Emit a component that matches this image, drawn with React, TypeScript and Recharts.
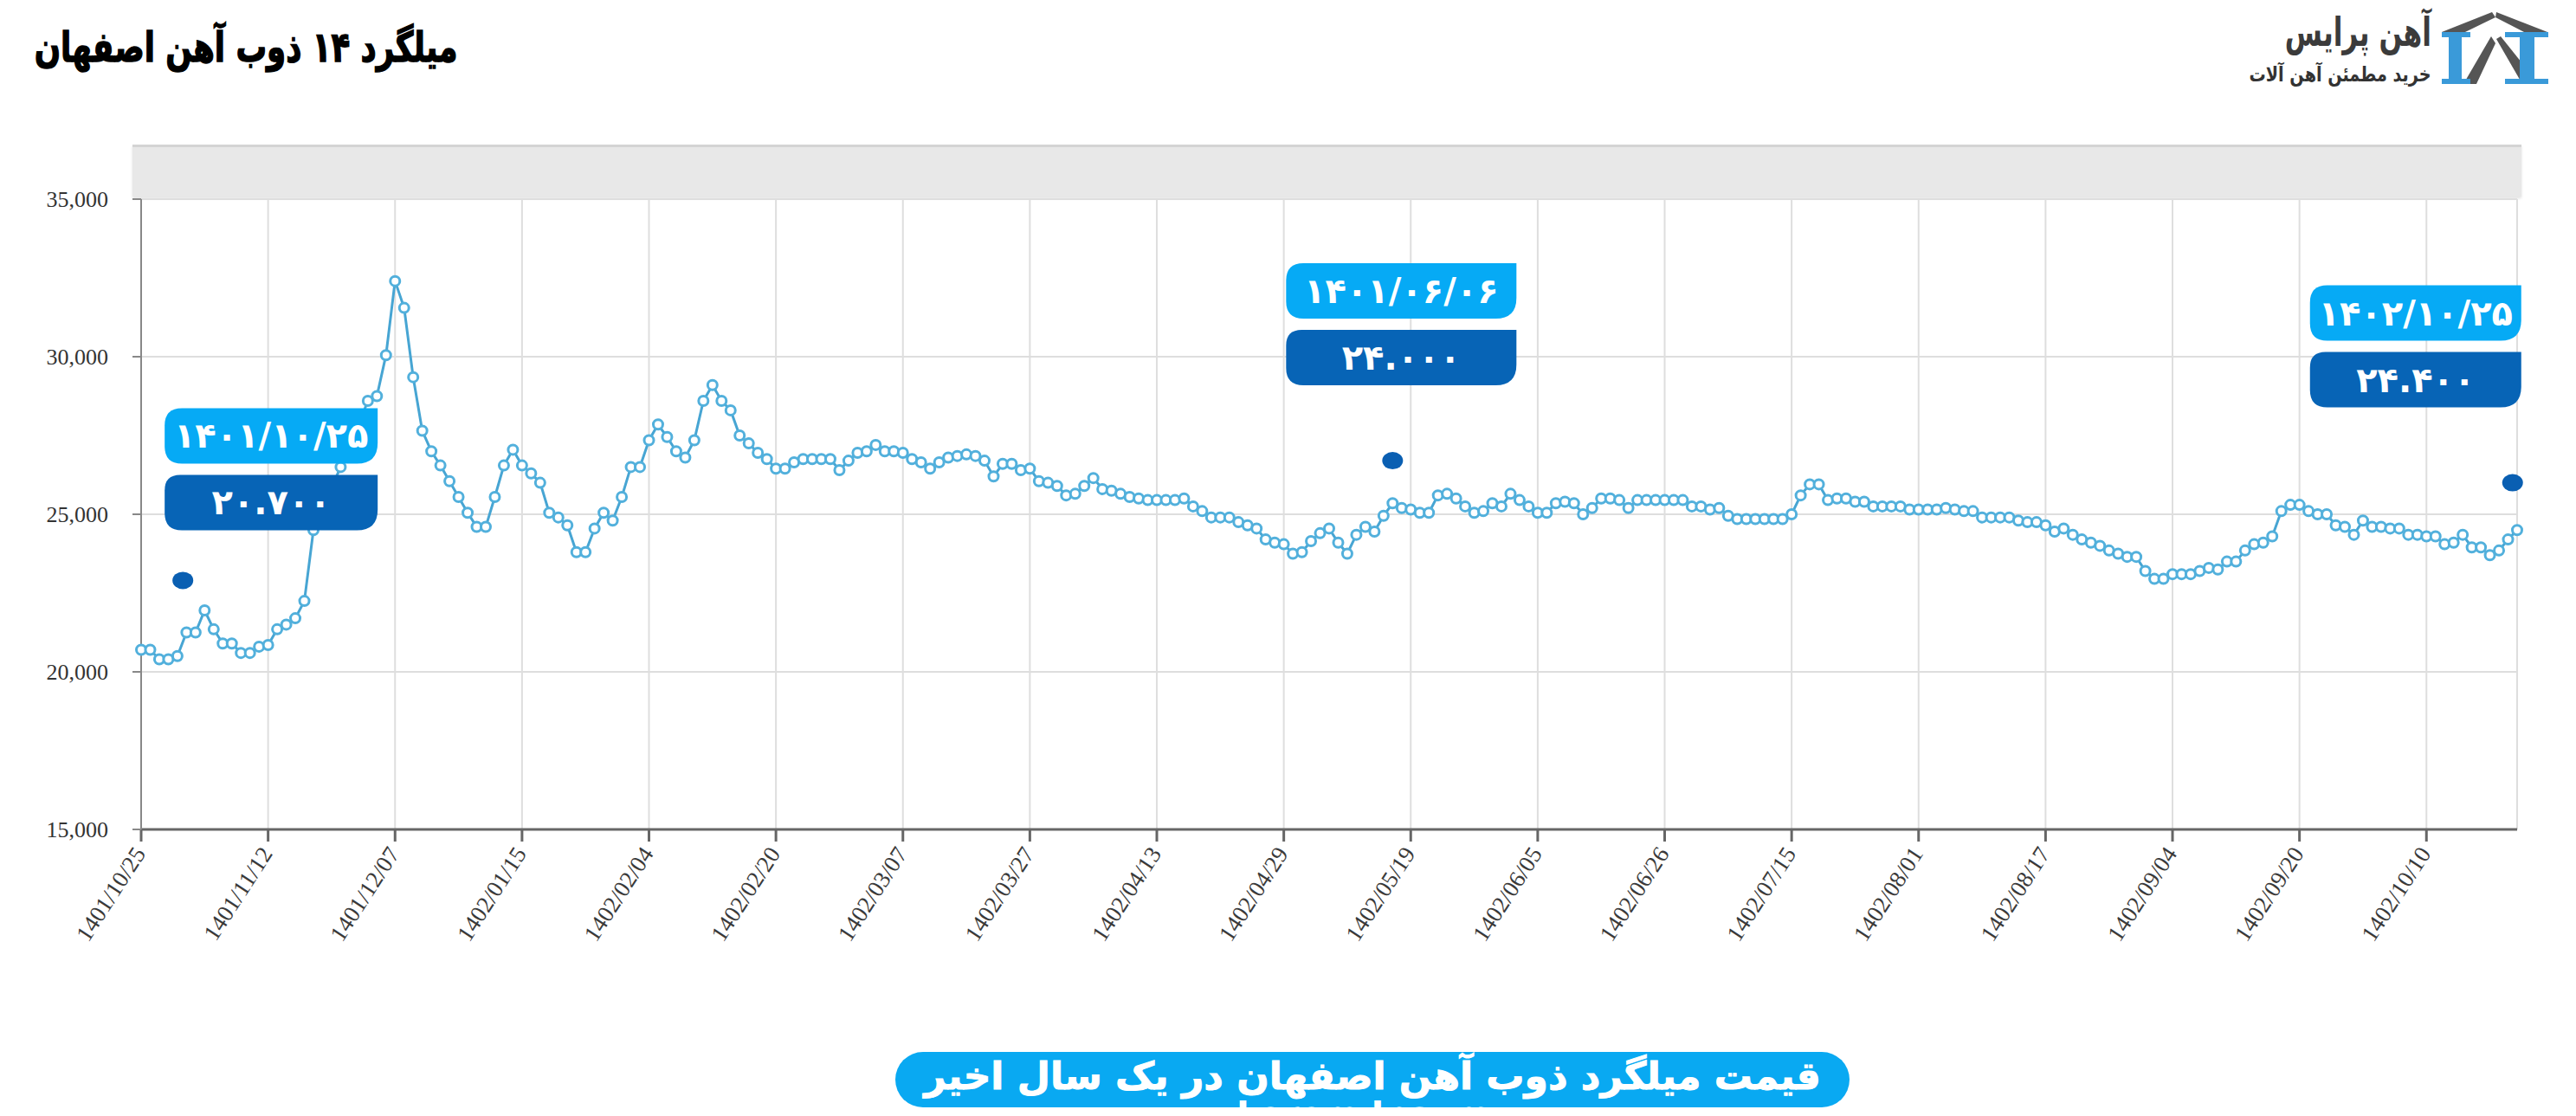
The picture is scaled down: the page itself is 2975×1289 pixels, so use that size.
import React from "react";
import { LineChart, Line, XAxis, YAxis, CartesianGrid, ReferenceDot } from "recharts";

// قیمت روزانه میلگرد ۱۴ ذوب آهن اصفهان (تومان)
const prices = [
  20700, 20700, 20400, 20400, 20500, 21250, 21250, 21950, 21350, 20900,
  20900, 20600, 20600, 20800, 20850, 21350, 21500, 21700, 22250, 24500,
  25200, 25850, 26500, 27100, 27850, 28600, 28750, 30050, 32400, 31550,
  29350, 27650, 27000, 26550, 26050, 25550, 25050, 24600, 24600, 25550,
  26550, 27050, 26550, 26300, 26000, 25050, 24900, 24650, 23800, 23800,
  24550, 25050, 24800, 25550, 26500, 26500, 27350, 27850, 27450, 27000,
  26800, 27350, 28600, 29100, 28600, 28300, 27500, 27250, 26950, 26750,
  26450, 26450, 26650, 26750, 26750, 26750, 26750, 26400, 26700, 26950,
  27000, 27200, 27000, 27000, 26950, 26750, 26650, 26450, 26650, 26800,
  26850, 26900, 26850, 26700, 26200, 26600, 26600, 26400, 26450, 26050,
  26000, 25900, 25600, 25650, 25900, 26150, 25800, 25750, 25650, 25550,
  25500, 25450, 25450, 25450, 25450, 25500, 25250, 25100, 24900, 24900,
  24900, 24750, 24650, 24550, 24200, 24100, 24050, 23750, 23800, 24150,
  24400, 24550, 24100, 23750, 24350, 24600, 24450, 24950, 25350, 25200,
  25150, 25050, 25050, 25600, 25650, 25500, 25250, 25050, 25100, 25350,
  25250, 25650, 25450, 25250, 25050, 25050, 25350, 25400, 25350, 25000,
  25200, 25500, 25500, 25450, 25200, 25450, 25450, 25450, 25450, 25450,
  25450, 25250, 25250, 25150, 25200, 24950, 24850, 24850, 24850, 24850,
  24850, 24850, 25000, 25600, 25950, 25950, 25450, 25500, 25500, 25400,
  25400, 25250, 25250, 25250, 25250, 25150, 25150, 25150, 25150, 25200,
  25150, 25100, 25100, 24900, 24900, 24900, 24900, 24800, 24750, 24750,
  24650, 24450, 24550, 24350, 24200, 24100, 24000, 23850, 23750, 23650,
  23650, 23200, 22950, 22950, 23100, 23100, 23100, 23200, 23300, 23250,
  23500, 23500, 23850, 24050, 24100, 24300, 25100, 25300, 25300, 25100,
  25000, 25000, 24650, 24600, 24350, 24800, 24600, 24600, 24550, 24550,
  24350, 24350, 24300, 24300, 24050, 24100, 24350, 23950, 23950, 23700,
  23850, 24200, 24500,
];

// برچسب تاریخ هر ۱۴ نقطه
const tickLabels = [
  "1401/10/25", "1401/11/12", "1401/12/07", "1402/01/15", "1402/02/04",
  "1402/02/20", "1402/03/07", "1402/03/27", "1402/04/13", "1402/04/29",
  "1402/05/19", "1402/06/05", "1402/06/26", "1402/07/15", "1402/08/01",
  "1402/08/17", "1402/09/04", "1402/09/20", "1402/10/10",
];
const tickStep = 14;

const yTicks = [15000, 20000, 25000, 30000, 35000];

const calloutDates = ["۱۴۰۱/۱۰/۲۵", "۱۴۰۱/۰۶/۰۶", "۱۴۰۲/۱۰/۲۵"];
const calloutValues = ["۲۰.۷۰۰", "۲۴.۰۰۰", "۲۴.۴۰۰"];
const calloutX = [4.6, 138, 261.5];
const calloutY = [22900, 26700, 26000];

const data = prices.map((price, i) => ({ i, price }));
const xTicks = tickLabels.map((_, k) => k * tickStep);

// جای جعبه‌ها نسبت به نقطه
const boxOffset = [
  { dx: -21, dy: -199, w: 246 },
  { dx: -123, dy: -228, w: 266 },
  { dx: -234, dy: -228, w: 244 },
];

function roundRect(x: number, y: number, w: number, h: number, r: number[]) {
  const [tl, tr, br, bl] = r;
  return `M${x + tl},${y} H${x + w - tr} Q${x + w},${y} ${x + w},${y + tr} V${y + h - br} Q${x + w},${y + h} ${x + w - br},${y + h} H${x + bl} Q${x},${y + h} ${x},${y + h - bl} V${y + tl} Q${x},${y} ${x + tl},${y} Z`;
}

function Callout(props: any) {
  const { cx, cy, idx } = props;
  const o = boxOffset[idx];
  const x = cx + o.dx;
  const y = cy + o.dy;
  const font = { fontFamily: "DejaVu Sans", fontWeight: 700, fontSize: 40 };
  return (
    <g>
      <ellipse cx={cx} cy={cy} rx={12} ry={10} fill="#0a5fb2" />
      <path d={roundRect(x, y, o.w, 64, [20, 0, 24, 20])} fill="#06aaf5" />
      <path d={roundRect(x, y + 77, o.w, 64, [18, 0, 24, 20])} fill="#0764b6" />
      <text x={x + o.w / 2} y={y + 46} textAnchor="middle" fill="#fff" style={font} direction="ltr">
        {calloutDates[idx]}
      </text>
      <text x={x + o.w / 2} y={y + 123} textAnchor="middle" fill="#fff" style={font} direction="ltr">
        {calloutValues[idx]}
      </text>
    </g>
  );
}

function DateTick(props: any) {
  const { x, y, payload } = props;
  const label = tickLabels[Math.round(payload.value / tickStep)];
  return (
    <text
      x={x + 6}
      y={y + 10}
      transform={`rotate(-57, ${x + 6}, ${y + 10})`}
      textAnchor="end"
      fill="#3a3a3a"
      style={{ fontFamily: "Liberation Serif", fontSize: 27 }}
    >
      {label}
    </text>
  );
}

function Logo() {
  return (
    <div style={{ position: "absolute", left: 2560, top: 8, width: 400, height: 100 }}>
      <div
        dir="rtl"
        style={{
          position: "absolute", right: 152, top: 2, fontFamily: "DejaVu Sans", fontWeight: 700,
          fontSize: 46, color: "#3b3b3b", whiteSpace: "nowrap",
          transform: "scaleX(0.68)", transformOrigin: "right center",
        }}
      >
        آهن پرایس
      </div>
      <div
        dir="rtl"
        style={{
          position: "absolute", right: 152, top: 64, fontFamily: "DejaVu Sans", fontWeight: 700,
          fontSize: 24, color: "#333", whiteSpace: "nowrap",
          transform: "scaleX(0.8)", transformOrigin: "right center",
        }}
      >
        خرید مطمئن آهن آلات
      </div>
      <svg style={{ position: "absolute", left: 255, top: 2 }} width={135} height={92}>
        <polygon points="5,27 63,4 67,10 32,27" fill="#555" />
        <polygon points="68,4 127,27 100,27 67,10" fill="#555" />
        <polygon points="30,87 62,32 67,40 45,87" fill="#555" />
        <polygon points="68,35 73,32 117,87 98,87" fill="#555" />
        <rect x={5} y={27} width={33} height={6} fill="#3a9ad9" />
        <rect x={13} y={27} width={15} height={60} fill="#3a9ad9" />
        <rect x={5} y={81} width={33} height={6} fill="#3a9ad9" />
        <rect x={78} y={27} width={50} height={6} fill="#3a9ad9" />
        <rect x={95} y={27} width={17} height={60} fill="#3a9ad9" />
        <rect x={78} y={81} width={50} height={6} fill="#3a9ad9" />
      </svg>
    </div>
  );
}

export default function App() {
  return (
    <div style={{ position: "relative", margin: -8, width: 2975, height: 1289, background: "#fff", overflow: "hidden" }}>
      <div
        dir="rtl"
        style={{
          position: "absolute", right: 2975 - 528, top: 26, transform: "scaleX(0.74)", transformOrigin: "right center",
          fontFamily: "DejaVu Sans", fontWeight: 900, fontSize: 48, color: "#000", whiteSpace: "nowrap",
          WebkitTextStroke: "1.5px #000",
        }}
      >
        میلگرد ۱۴ ذوب آهن اصفهان
      </div>
      <Logo />

      <div
        style={{
          position: "absolute", left: 153, top: 167, width: 2759, height: 60,
          background: "#e8e8e8", borderTop: "3px solid #d4d4d4", boxSizing: "border-box",
          boxShadow: "0 2px 3px rgba(0,0,0,0.12)",
        }}
      />

      <div style={{ position: "absolute", left: 0, top: 0 }}>
        <LineChart width={2975} height={1289} data={data} margin={{ top: 230, right: 68, bottom: 0, left: 0 }}>
          <CartesianGrid stroke="#dedede" strokeWidth={2} />
          <XAxis
            dataKey="i"
            type="number"
            domain={[0, prices.length - 1]}
            ticks={xTicks}
            interval={0}
            height={331}
            tickSize={14}
            tickMargin={4}
            stroke="#666"
            strokeWidth={3}
            tick={<DateTick />}
          />
          <YAxis
            domain={[15000, 35000]}
            ticks={yTicks}
            width={163}
            tickSize={10}
            tickMargin={28}
            stroke="#888"
            strokeWidth={2}
            tickFormatter={(v: number) => v.toLocaleString("en-US")}
            tick={{ fill: "#333", fontFamily: "Liberation Serif", fontSize: 26 }}
          />
          <Line
            type="linear"
            dataKey="price"
            stroke="#47a5d3"
            strokeWidth={3}
            dot={{ r: 5.5, fill: "#fff", stroke: "#52b0dc", strokeWidth: 3 }}
            isAnimationActive={false}
          />
          {calloutX.map((x, k) => (
            <ReferenceDot key={k} x={x} y={calloutY[k]} shape={(p: any) => <Callout {...p} idx={k} />} />
          ))}
        </LineChart>
      </div>

      <div
        style={{
          position: "absolute", left: 1034, top: 1215, width: 1102, height: 64, borderRadius: 32,
          background: "#09a9f2", overflow: "hidden", color: "#fff",
        }}
      >
        <div
          dir="rtl"
          style={{
            textAlign: "center", fontFamily: "DejaVu Sans", fontWeight: 700, fontSize: 44, lineHeight: "56px",
            WebkitTextStroke: "1px #fff",
          }}
        >
          قیمت میلگرد ذوب آهن اصفهان در یک سال اخیر
        </div>
        <div
          style={{
            position: "absolute", left: 394, top: 52, fontFamily: "DejaVu Sans", fontWeight: 700,
            fontSize: 40, lineHeight: "40px", whiteSpace: "nowrap",
          }}
        >
          Lorem Ipsum
        </div>
      </div>
    </div>
  );
}
